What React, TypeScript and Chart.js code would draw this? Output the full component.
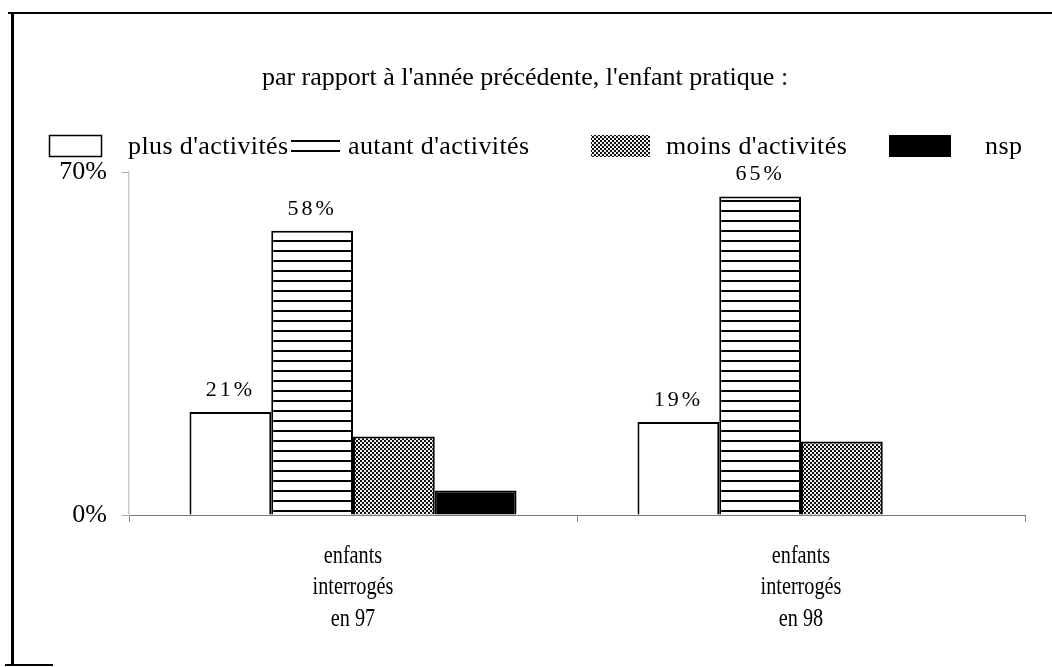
import React, { useEffect, useRef } from 'react';
import { Chart, registerables } from 'chart.js';

Chart.register(...registerables);

// Data
const categories = [
  ['enfants', 'interrogés', 'en 97'],
  ['enfants', 'interrogés', 'en 98'],
];
const seriesNames = ["plus d'activités", "autant d'activités", "moins d'activités", 'nsp'];
const plusValues = [21, 19];
const autantValues = [58, 65];
const moinsValues = [16, 15];
const nspValues = [5, 0];
const yTicks = [0, 70];
const labelledSeries = [0, 1];
const titleText = "par rapport à l'année précédente, l'enfant pratique :";

const FONT = '"Liberation Serif", "Times New Roman", serif';

function makeStripes(): CanvasPattern | string {
  const c = document.createElement('canvas');
  c.width = 10;
  c.height = 10;
  const g = c.getContext('2d');
  if (!g) return '#fff';
  g.fillStyle = '#fff';
  g.fillRect(0, 0, 10, 10);
  g.fillStyle = '#000';
  g.fillRect(0, 0, 10, 2);
  return g.createPattern(c, 'repeat') || '#fff';
}

function makeStipple(): CanvasPattern | string {
  const c = document.createElement('canvas');
  c.width = 4;
  c.height = 4;
  const g = c.getContext('2d');
  if (!g) return '#777';
  g.fillStyle = '#eee';
  g.fillRect(0, 0, 4, 4);
  g.fillStyle = '#111';
  g.fillRect(0, 0, 2, 2);
  g.fillRect(2, 2, 2, 2);
  g.fillRect(1, 1, 1, 1);
  return g.createPattern(c, 'repeat') || '#777';
}

export default function App() {
  const ref = useRef<HTMLCanvasElement | null>(null);

  useEffect(() => {
    const canvas = ref.current;
    if (!canvas) return;
    const stripes = makeStripes();
    const stipple = makeStipple();
    const fills: (string | CanvasPattern)[] = ['#fff', stripes, stipple, '#000'];

    // Frame, title, legend, category names and value labels
    const decor = {
      id: 'decor',
      beforeDraw(chart: any) {
        const ctx = chart.ctx;
        ctx.save();
        ctx.fillStyle = '#fff';
        ctx.fillRect(0, 0, chart.width, chart.height);
        ctx.fillStyle = '#000';
        ctx.fillRect(8, 12, chart.width - 8, 2);
        ctx.fillRect(11, 12, 3, 654);
        ctx.fillRect(5, 664, 48, 2);
        ctx.restore();
      },
      afterDraw(chart: any) {
        const ctx = chart.ctx;
        ctx.save();
        ctx.fillStyle = '#000';
        ctx.textBaseline = 'middle';
        ctx.textAlign = 'center';
        ctx.font = `26px ${FONT}`;
        ctx.fillText(titleText, 525, 78);

        // Legend: swatches first, then names on top
        const boxX = [49, 291, 591, 889];
        const boxW = [53, 49, 59, 62];
        const textX = [128, 348, 666, 985];
        const boxY = 135;
        const boxH = 22;
        seriesNames.forEach((_, i) => {
          ctx.fillStyle = fills[i];
          ctx.fillRect(boxX[i], boxY, boxW[i], boxH);
          if (i === 0) {
            ctx.strokeStyle = '#000';
            ctx.lineWidth = 1.5;
            ctx.strokeRect(boxX[i] + 0.5, boxY + 0.5, boxW[i] - 1, boxH - 1);
          }
        });
        ctx.textAlign = 'left';
        ctx.font = `26px ${FONT}`;
        (ctx as any).letterSpacing = '0.4px';
        ctx.fillStyle = '#000';
        seriesNames.forEach((name, i) => {
          ctx.fillText(name, textX[i], boxY + boxH / 2 + 1);
        });
        (ctx as any).letterSpacing = '0px';

        // Category names, set in a narrow face
        const xs = chart.scales.x;
        ctx.textAlign = 'center';
        ctx.font = `25px ${FONT}`;
        categories.forEach((lines, i) => {
          const cx = xs.getPixelForValue(i);
          lines.forEach((line, k) => {
            ctx.save();
            ctx.translate(cx, 556 + k * 31.5);
            ctx.scale(0.81, 1);
            ctx.fillText(line, 0, 0);
            ctx.restore();
          });
        });

        // Value labels
        ctx.font = `22px ${FONT}`;
        (ctx as any).letterSpacing = '3px';
        labelledSeries.forEach((di) => {
          const meta = chart.getDatasetMeta(di);
          const vals = chart.data.datasets[di].data as number[];
          meta.data.forEach((bar: any, j: number) => {
            if (!vals[j]) return;
            ctx.fillText(`${vals[j]}%`, bar.x, bar.y - 22);
          });
        });
        ctx.restore();
      },
    };

    const seriesData = [plusValues, autantValues, moinsValues, nspValues];
    const chart = new Chart(canvas, {
      type: 'bar',
      data: {
        labels: categories as any,
        datasets: seriesNames.map((name, i) => ({
          label: name,
          data: seriesData[i],
          backgroundColor: fills[i] as any,
          borderColor: '#000',
          borderWidth: 2,
          categoryPercentage: 0.73,
          barPercentage: 1.0,
        })),
      },
      options: {
        responsive: false,
        animation: false,
        layout: { padding: { top: 172, right: 27, bottom: 0, left: 0 } },
        plugins: {
          legend: { display: false },
          title: { display: false },
          tooltip: { enabled: false },
        },
        scales: {
          x: {
            grid: { offset: true, drawOnChartArea: false, tickLength: 7, color: '#888' },
            border: { color: '#777', width: 1 },
            ticks: { display: false },
            afterFit: (s: any) => {
              s.height = 152;
            },
          },
          y: {
            min: 0,
            max: 70,
            afterBuildTicks: (s: any) => {
              s.ticks = yTicks.map((v) => ({ value: v }));
            },
            grid: { drawOnChartArea: false, tickLength: 7, color: '#aaa' },
            border: { color: '#ccc', width: 1.5 },
            ticks: {
              color: '#000',
              font: { family: FONT, size: 26 },
              padding: 15,
              callback: (v: any) => `${v}%`,
            },
            afterFit: (s: any) => {
              s.width = 129;
            },
          },
        },
      },
      plugins: [decor],
    });
    return () => chart.destroy();
  }, []);

  return (
    <div style={{ position: 'absolute', left: 0, top: 0, width: 1052, height: 667 }}>
      <canvas ref={ref} width={1052} height={667} style={{ display: 'block' }} />
    </div>
  );
}
